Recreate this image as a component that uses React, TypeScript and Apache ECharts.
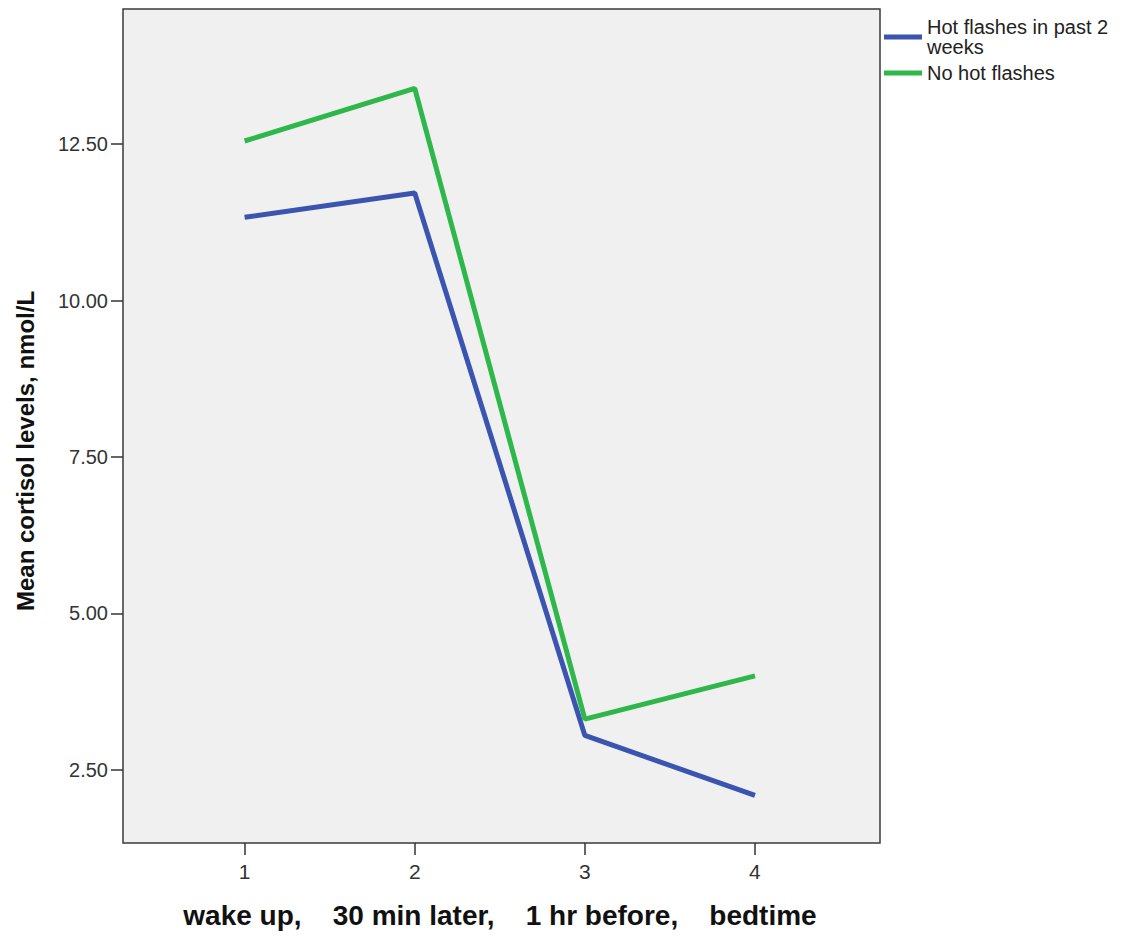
import React, { useEffect, useRef } from "react";
import * as echarts from "echarts";

const timePoints = [1, 2, 3, 4];
const hotFlashes = [11.33, 11.72, 3.05, 2.09];
const noHotFlashes = [12.55, 13.39, 3.31, 4.0];
const yTicks = [2.5, 5, 7.5, 10, 12.5];
const seriesNames = ["Hot flashes in past 2 weeks", "No hot flashes"];
const xTitle = "wake up,    30 min later,    1 hr before,    bedtime";
const yTitle = "Mean cortisol levels, nmol/L";

const BLUE = "#3b54b0";
const GREEN = "#2eb84b";
const FONT = "'Liberation Sans', Arial, sans-serif";

export default function App() {
  const ref = useRef<HTMLDivElement>(null);
  useEffect(() => {
    if (!ref.current) return;
    const chart = echarts.init(ref.current, undefined, { renderer: "svg" });
    chart.setOption({
      animation: false,
      backgroundColor: "#ffffff",
      textStyle: { fontFamily: FONT },
      grid: {
        left: 123,
        top: 9,
        right: 246,
        bottom: 93,
        show: true,
        backgroundColor: "#f0f0f0",
        borderColor: "#3a3a3a",
        borderWidth: 1.5,
      },
      legend: {
        orient: "vertical",
        left: 879,
        top: 10,
        itemWidth: 38,
        itemHeight: 5,
        itemGap: 2,
        icon: "rect",
        textStyle: { fontSize: 20, color: "#222", lineHeight: 20, fontFamily: FONT },
        formatter: (name: string) =>
          name === seriesNames[0] ? "Hot flashes in past 2\nweeks" : name,
        data: [
          { name: seriesNames[0], textStyle: { padding: [4, 0, 0, 0] } },
          { name: seriesNames[1], textStyle: { padding: [4, 0, 0, 0] } },
        ],
      },
      xAxis: {
        type: "value",
        min: 0.285,
        max: 4.735,
        axisLine: { show: false },
        splitLine: { show: false },
        axisTick: {
          show: true,
          length: 12,
          customValues: timePoints,
          lineStyle: { color: "#333", width: 1.5 },
        },
        axisLabel: {
          customValues: timePoints,
          margin: 18,
          fontSize: 21,
          color: "#333",
          fontFamily: FONT,
        },
      },
      yAxis: {
        type: "value",
        min: 1.33,
        max: 14.66,
        axisLine: { show: false },
        splitLine: { show: false },
        axisTick: {
          show: true,
          length: 12,
          customValues: yTicks,
          lineStyle: { color: "#333", width: 1.5 },
        },
        axisLabel: {
          customValues: yTicks,
          margin: 15,
          fontSize: 20,
          color: "#333",
          fontFamily: FONT,
          formatter: (v: number) => v.toFixed(2),
        },
      },
      series: [
        {
          name: seriesNames[0],
          type: "line",
          data: timePoints.map((t, i) => [t, hotFlashes[i]]),
          showSymbol: false,
          symbol: "none",
          color: BLUE,
          lineStyle: { color: BLUE, width: 5 },
        },
        {
          name: seriesNames[1],
          type: "line",
          data: timePoints.map((t, i) => [t, noHotFlashes[i]]),
          showSymbol: false,
          symbol: "none",
          color: GREEN,
          lineStyle: { color: GREEN, width: 5 },
        },
      ],
      graphic: [
        {
          type: "text",
          x: 500,
          y: 915,
          style: {
            text: xTitle,
            fontSize: 28,
            fontWeight: "bold",
            fill: "#111",
            fontFamily: FONT,
            align: "center",
            verticalAlign: "middle",
          },
        },
        {
          type: "text",
          x: 25,
          y: 451,
          rotation: Math.PI / 2,
          style: {
            text: yTitle,
            fontSize: 24,
            fontWeight: "bold",
            fill: "#111",
            fontFamily: FONT,
            align: "center",
            verticalAlign: "middle",
          },
        },
      ],
    });
    return () => chart.dispose();
  }, []);
  return (
    <div
      ref={ref}
      style={{ position: "fixed", left: 0, top: 0, width: 1126, height: 936 }}
    />
  );
}
